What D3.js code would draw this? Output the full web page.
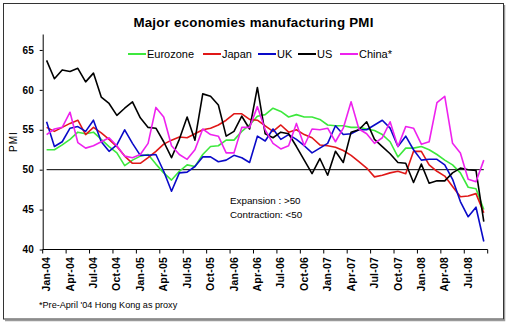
<!DOCTYPE html>
<html><head><meta charset="utf-8">
<script src="https://cdn.jsdelivr.net/npm/d3@7"></script>
<style>
html,body{margin:0;padding:0;background:#fff;}
svg{display:block;font-family:"Liberation Sans",Arial,Helvetica,sans-serif;}
</style></head><body>
<svg id="chart" width="510" height="325"></svg>
<script>
// Monthly manufacturing PMI, Jan 2004 – Sep 2008
const months = [
  "Jan-04","Feb-04","Mar-04","Apr-04","May-04","Jun-04","Jul-04","Aug-04","Sep-04","Oct-04","Nov-04","Dec-04",
  "Jan-05","Feb-05","Mar-05","Apr-05","May-05","Jun-05","Jul-05","Aug-05","Sep-05","Oct-05","Nov-05","Dec-05",
  "Jan-06","Feb-06","Mar-06","Apr-06","May-06","Jun-06","Jul-06","Aug-06","Sep-06","Oct-06","Nov-06","Dec-06",
  "Jan-07","Feb-07","Mar-07","Apr-07","May-07","Jun-07","Jul-07","Aug-07","Sep-07","Oct-07","Nov-07","Dec-07",
  "Jan-08","Feb-08","Mar-08","Apr-08","May-08","Jun-08","Jul-08","Aug-08","Sep-08"
];
const eurozone = [
  52.5,52.5,53.1,53.8,54.7,54.5,54.7,53.8,52.9,52.1,50.5,51.2,
  51.7,51.9,50.7,49.6,48.7,49.8,50.6,50.4,51.9,52.9,53.0,53.7,
  53.7,54.8,55.6,56.7,56.9,57.7,57.3,56.6,56.9,56.6,56.6,56.3,
  55.6,55.5,55.5,55.3,55.3,55.1,54.9,54.4,53.5,51.6,52.7,52.7,
  52.9,52.5,51.9,51.2,50.6,49.6,47.8,47.6,45.0
];
const japan = [
  55.3,54.8,55.3,55.8,56.2,54.4,55.3,54.6,53.8,52.9,51.7,50.8,
  50.8,51.5,52.3,53.2,53.7,54.1,54.0,54.5,55.0,55.2,55.6,56.2,
  57.0,57.0,56.3,56.2,55.5,54.8,55.6,54.7,55.0,54.4,54.0,53.1,
  53.0,52.8,52.4,51.8,51.0,50.2,49.1,49.3,49.6,49.8,49.5,52.3,
  52.3,50.6,49.8,49.2,47.9,46.6,46.7,47.0,44.6
];
const uk = [
  56.0,52.9,53.5,55.2,55.4,54.8,56.2,53.5,52.3,53.1,55.0,53.3,
  51.8,51.8,51.9,49.8,47.3,49.6,49.7,50.4,51.6,51.6,51.0,51.2,
  51.8,51.5,50.9,54.2,53.6,55.1,53.8,54.4,53.8,53.0,52.1,52.7,
  53.3,55.5,54.4,54.5,55.0,55.0,55.6,56.2,55.2,52.9,54.2,52.5,
  51.2,51.3,51.3,50.6,48.8,46.0,44.1,45.3,41.0
];
const us = [
  63.7,61.4,62.5,62.3,62.7,61.0,62.1,59.1,58.3,56.8,57.7,58.5,
  56.5,55.3,55.2,53.5,51.5,53.8,56.6,53.7,59.5,59.2,58.1,54.2,
  54.8,56.7,55.1,60.3,54.5,54.0,54.7,54.5,52.9,51.2,49.5,51.4,
  49.3,52.3,50.9,54.7,55.0,56.0,53.8,52.9,52.0,50.9,50.8,48.4,
  50.7,48.3,48.6,48.6,49.6,50.2,50.0,49.9,43.5
];
const china = [
  54.4,55.1,55.3,57.2,53.4,52.7,53.0,53.5,54.0,53.0,51.7,51.5,
  51.9,53.3,57.8,56.6,53.0,51.9,51.3,52.5,55.1,54.4,54.2,52.1,
  52.1,55.3,55.3,57.9,55.0,53.3,52.6,53.0,55.8,53.0,55.1,55.0,
  55.2,53.5,55.2,58.5,55.1,54.5,53.3,54.0,56.0,52.9,55.4,55.2,
  53.2,53.5,58.4,59.2,53.3,52.1,48.8,48.5,51.2
];
const seriesNames = ["Eurozone","Japan","UK","US","China*"];
const seriesColors = ["#3de83d","#e01818","#0a0ac8","#000000","#ee22ee"];
const seriesValues = [eurozone, japan, uk, us, china];
const yTicks = [40,45,50,55,60,65];
const xTickLabels = months.filter((d,i) => i % 3 === 0);
const threshold = 50;

const svg = d3.select("#chart");

// outer frame with a light shadow edge
svg.append("path").attr("d","M504.5,5V320.5H5").attr("fill","none").attr("stroke","#9a9a9a").attr("stroke-width",1.5);
svg.append("rect").attr("x",3.5).attr("y",3.5).attr("width",500).attr("height",315.5)
  .attr("fill","#fff").attr("stroke","#333").attr("stroke-width",1);

const x = d3.scaleBand().domain(months).range([42.7, 487.7]).padding(0);
const y = d3.scaleLinear().domain([40, 67]).range([249.5, 34]);
const cx = m => x(m) + x.bandwidth() / 2;

// title
svg.append("text").attr("x",253.5).attr("y",26.5).attr("text-anchor","middle")
  .attr("font-weight","bold").attr("font-size",13.3).attr("letter-spacing",0.25)
  .text("Major economies manufacturing PMI");

// y axis
const yAxis = svg.append("g").attr("transform","translate(42.7,0)")
  .call(d3.axisLeft(y).tickValues(yTicks).tickSize(3).tickSizeOuter(0).tickPadding(6));
yAxis.select(".domain").attr("stroke","#000");
yAxis.selectAll("line").attr("stroke","#000");
yAxis.selectAll("text").attr("font-size",10).attr("font-weight","bold")
  .attr("font-family","'Liberation Sans',Arial,sans-serif").attr("fill","#000");

svg.append("text").attr("transform","translate(17,141.5) rotate(-90)")
  .attr("text-anchor","middle").attr("font-size",10).attr("letter-spacing",1).text("PMI");

// x axis: tick marks on quarter boundaries, labels at category centres
const xAxisG = svg.append("g");
xAxisG.append("line").attr("x1",x.range()[0]).attr("x2",x.range()[1])
  .attr("y1",y(40)).attr("y2",y(40)).attr("stroke","#000");
const tickPos = months.filter((d,i)=> i % 3 === 0).map(m => x(m)).concat([x.range()[1]]);
xAxisG.selectAll("line.tick").data(tickPos).join("line").attr("class","tick")
  .attr("x1",d=>d).attr("x2",d=>d).attr("y1",y(40)).attr("y2",y(40)+4).attr("stroke","#000");
xAxisG.selectAll("text").data(xTickLabels).join("text")
  .attr("transform", d => `translate(${cx(d)+0.8},${y(40)+7.5}) rotate(-90)`)
  .attr("text-anchor","end").attr("dominant-baseline","middle")
  .attr("font-size",10.5).attr("font-weight","bold").attr("letter-spacing",0.2)
  .text(d => d);

// 50 threshold line
svg.append("line").attr("x1",cx(months[0])).attr("x2",cx(months[months.length-1]))
  .attr("y1",y(threshold)).attr("y2",y(threshold)).attr("stroke","#000").attr("stroke-width",1);

// series lines
const line = d3.line().x((d,i)=>cx(months[i])).y(d=>y(d));
seriesValues.forEach((vals, k) => {
  svg.append("path").datum(vals).attr("d", line)
    .attr("fill","none").attr("stroke",seriesColors[k]).attr("stroke-width",1.6)
    .attr("stroke-linejoin","round");
});

// legend
const legendX = [128, 203, 258, 298, 340];
seriesNames.forEach((name, k) => {
  const g = svg.append("g").attr("transform",`translate(${legendX[k]},54)`);
  g.append("line").attr("x1",0).attr("x2",18).attr("y1",0).attr("y2",0)
    .attr("stroke",seriesColors[k]).attr("stroke-width",2);
  g.append("text").attr("x",19).attr("y",4).attr("font-size",11).text(name);
});

// annotation
svg.append("text").attr("x",230).attr("y",204).attr("font-size",9.8).text("Expansion : >50");
svg.append("text").attr("x",230).attr("y",218).attr("font-size",9.8).text("Contraction: <50");

// footnote
svg.append("text").attr("x",39).attr("y",308).attr("font-size",9.1).text("*Pre-April '04 Hong Kong as proxy");
</script>
</body></html>
